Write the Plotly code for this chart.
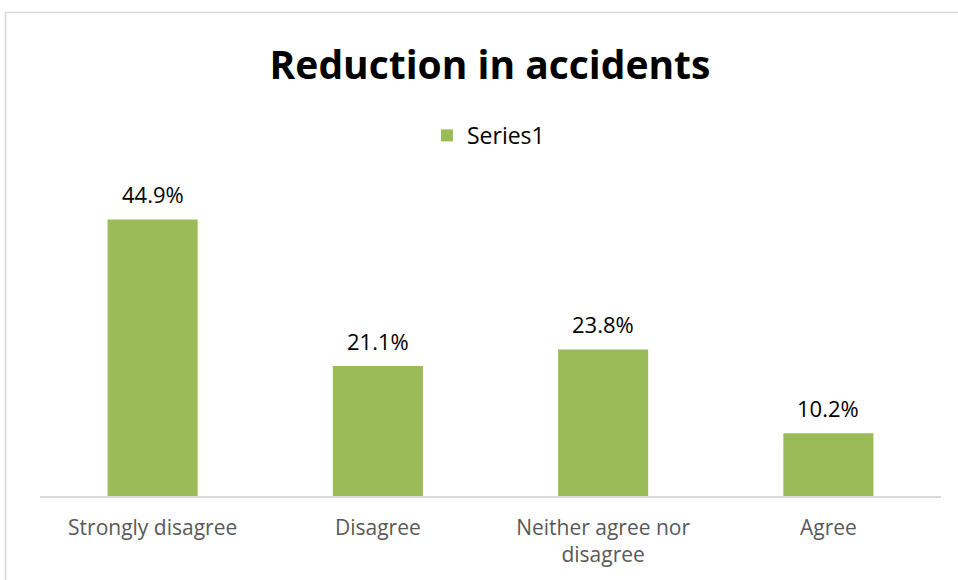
import plotly.graph_objects as go

categories = ["Strongly disagree", "Disagree", "Neither agree nor<br>disagree", "Agree"]
values = [44.9, 21.1, 23.8, 10.2]
labels = ["44.9%", "21.1%", "23.8%", "10.2%"]
series_name = "Series1"

W, H = 958, 580
L, R, T, B = 39.5, 940.6, 187.6, 495.7
pw, ph = R - L, B - T

def px_x(x):
    return (x - L) / pw

def px_y(y):
    return (B - y) / ph

font = "Open Sans"
fig = go.Figure()
fig.add_trace(go.Bar(
    x=categories, y=values, name=series_name,
    marker=dict(color="#9BBB59", line=dict(width=0)),
    showlegend=True,
))
for c, v, t in zip(categories, values, labels):
    fig.add_annotation(x=c, y=v, text=t, showarrow=False, yanchor="bottom",
                       yshift=8, font=dict(family=font, size=22, color="#000000"))

fig.add_shape(type="rect", xref="paper", yref="paper",
              x0=px_x(5), x1=px_x(1000), y0=px_y(640), y1=px_y(12),
              line=dict(color="#d9d9d9", width=1.5), fillcolor="rgba(0,0,0,0)", layer="below")

fig.update_layout(
    width=W, height=H,
    margin=dict(l=L, r=W - R, t=T, b=H - B, pad=0),
    paper_bgcolor="white", plot_bgcolor="white",
    title=dict(text="<b>Reduction in accidents</b>", x=490 / W, xref="container",
               y=1 - 65 / H, yref="container", yanchor="middle", xanchor="center",
               font=dict(family=font, size=39, color="#000000")),
    legend=dict(orientation="h", x=px_x(488), xanchor="center", y=px_y(135), yanchor="middle",
                font=dict(family=font, size=23, color="#000000"), itemwidth=30),
    bargap=0.6,
    xaxis=dict(showline=True, linecolor="#d9d9d9", linewidth=1.5, ticks="",
               tickfont=dict(family=font, size=21, color="#595959"),
               ticklabelstandoff=12, showgrid=False, fixedrange=True),
    yaxis=dict(range=[0, 50], visible=False, showgrid=False, zeroline=False),
)
fig.write_html("out.html")
